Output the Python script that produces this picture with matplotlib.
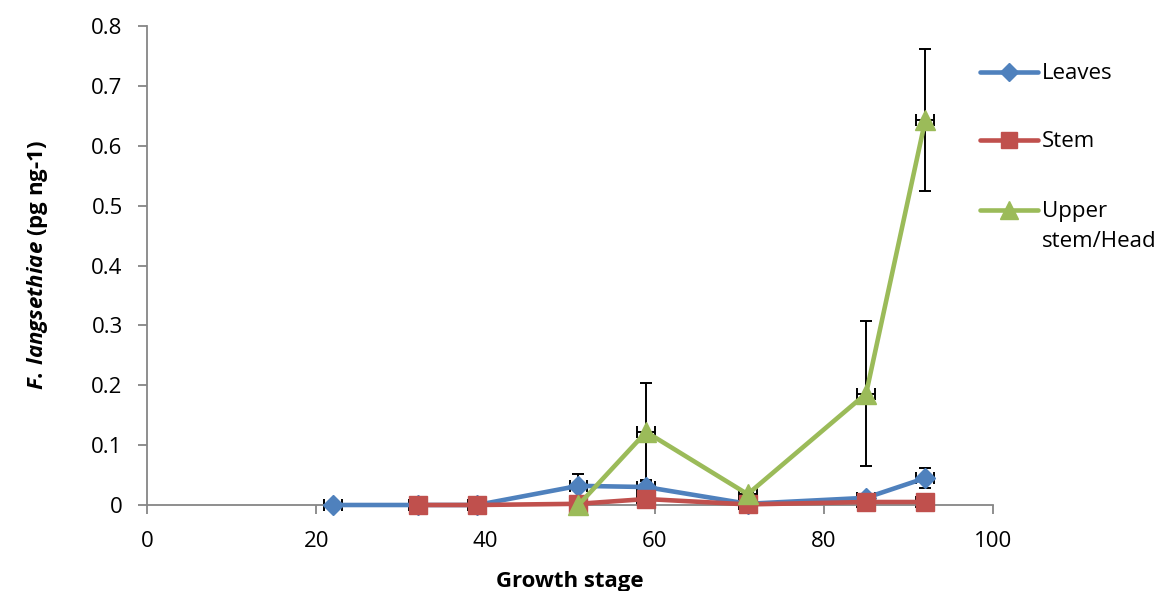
import matplotlib.pyplot as plt
from matplotlib.lines import Line2D
import numpy as np

plt.rcParams['font.family'] = ['Open Sans', 'DejaVu Sans']
plt.rcParams['mathtext.fontset'] = 'custom'
plt.rcParams['mathtext.it'] = 'Open Sans:italic:bold'
plt.rcParams['mathtext.rm'] = 'Open Sans:bold'

# Growth stage (x) and F. langsethiae DNA (pg ng-1) per plant part
leaves_x = [22, 32, 39, 51, 59, 71, 85, 92]
leaves_y = [0.0, 0.0, 0.0, 0.032, 0.030, 0.002, 0.012, 0.045]
leaves_err = [0.002, 0.001, 0.001, 0.020, 0.012, 0.001, 0.004, 0.017]

stem_x = [32, 39, 51, 59, 71, 85, 92]
stem_y = [0.0, 0.0, 0.002, 0.010, 0.001, 0.005, 0.005]
stem_err = [0.001, 0.001, 0.001, 0.003, 0.001, 0.002, 0.002]

head_x = [51, 59, 71, 85, 92]
head_y = [0.0, 0.122, 0.018, 0.186, 0.643]
head_err = [0.001, 0.082, 0.003, 0.121, 0.118]

blue = '#4F81BD'
red = '#C0504D'
green = '#9BBB59'
W, H = 1165, 591

fig = plt.figure(figsize=(W / 100, H / 100), dpi=100)
ax = fig.add_axes([147 / W, 1 - 505 / H, 846 / W, 479 / H])

series = [
    ('Leaves', leaves_x, leaves_y, leaves_err, blue, 'D', 10.5),
    ('Stem', stem_x, stem_y, stem_err, red, 's', 13.5),
    ('Upper\nstem/Head', head_x, head_y, head_err, green, '^', 15),
]

for name, x, y, err, col, mk, ms in series:
    ax.errorbar(x, y, yerr=err, xerr=1.05, fmt='none', ecolor='black',
                elinewidth=1.4, capsize=4, capthick=1.4, zorder=2,
                clip_on=False)
    ax.plot(x, y, color=col, lw=3.3, marker=mk, ms=ms, mec=col, mfc=col,
            zorder=3, clip_on=False)

ax.set_xlim(0, 100)
ax.set_ylim(0, 0.8)
ax.set_xticks(np.arange(0, 101, 20))
ax.set_yticks(np.arange(0, 0.81, 0.1))
ax.set_yticklabels(['0'] + [f'{v:.1f}' for v in np.arange(0.1, 0.81, 0.1)])

for side in ['top', 'right']:
    ax.spines[side].set_visible(False)
for side in ['left', 'bottom']:
    ax.spines[side].set_color('#868686')
    ax.spines[side].set_linewidth(1.3)
ax.tick_params(axis='both', direction='out', length=6.5, width=1.3,
               color='#868686', labelsize=16)
ax.tick_params(axis='y', pad=11)
ax.tick_params(axis='x', pad=12)

ax.set_xlabel('Growth stage', fontsize=16, fontweight='bold', labelpad=14)
ax.set_ylabel(r'$\mathit{F.\,langsethiae}$ (pg ng-1)', fontsize=16,
              fontweight='bold', labelpad=30)

# legend drawn by hand so the wrapped label stays top-aligned with its key
rows = [72, 140, 210]
for (name, x, y, err, col, mk, ms), ry in zip(series, rows):
    fy = 1 - ry / H
    fig.add_artist(Line2D([980 / W, 1038 / W], [fy, fy], color=col, lw=3.3,
                          solid_capstyle='round', transform=fig.transFigure))
    fig.add_artist(Line2D([1009 / W], [fy], marker=mk, ms=ms * 0.9, color=col,
                          mec=col, mfc=col, transform=fig.transFigure))
    fig.text(1042 / W, 1 - (ry - 9) / H, name, fontsize=16, ha='left',
             va='top', linespacing=1.55)

fig.savefig('out.png', dpi=100)
